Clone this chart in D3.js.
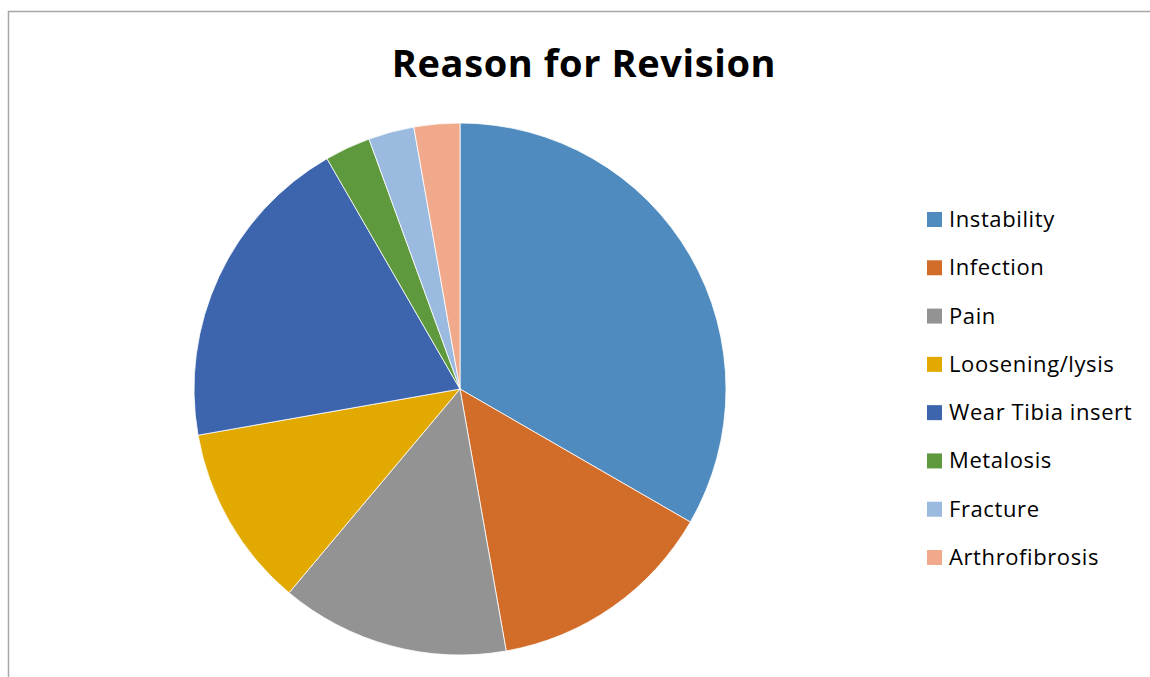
<!DOCTYPE html>
<html><head><meta charset="utf-8">
<script src="https://cdn.jsdelivr.net/npm/d3@7"></script>
<style>body{margin:0;background:#fff}svg{display:block}</style>
</head><body>
<svg id="c" width="1150" height="677"></svg>
<script>
const categories = ["Instability","Infection","Pain","Loosening/lysis","Wear Tibia insert","Metalosis","Fracture","Arthrofibrosis"];
const values = [12,5,5,4,7,1,1,1];
const colors = ["#4F8BBE","#D26D29","#939393","#E2A900","#3D65AD","#5F993D","#9ABADF","#F0A98A"];
const title = "Reason for Revision";

const svg = d3.select("#c");
const font = "'Open Sans', Lato, sans-serif";
svg.append("rect").attr("x",8.5).attr("y",11.5).attr("width",1200).attr("height",800)
  .attr("fill","none").attr("stroke","#a6a6a6").attr("stroke-width",1.5);

svg.append("text").attr("x",584).attr("y",77).attr("text-anchor","middle")
  .attr("font-family",font).attr("font-weight","bold").attr("font-size",38)
  .attr("letter-spacing",0.6).attr("fill","#000").text(title);

const cx=460, cy=389, r=266;
const pie = d3.pie().sort(null).value(d=>d.v);
const arc = d3.arc().innerRadius(0).outerRadius(r);
const data = categories.map((c,i)=>({c, v:values[i], col:colors[i]}));
const g = svg.append("g").attr("transform",`translate(${cx},${cy})`);
g.selectAll("path").data(pie(data)).join("path")
  .attr("d",arc).attr("fill",d=>d.data.col).attr("stroke","#fff").attr("stroke-width",0.8);

const ly = d3.scalePoint().domain(categories).range([219,557]);
const lg = svg.append("g");
categories.forEach((c,i)=>{
  lg.append("rect").attr("x",927).attr("y",ly(c)-7).attr("width",15).attr("height",15).attr("fill",colors[i]);
  lg.append("text").attr("x",949).attr("y",ly(c)+8).attr("font-family",font).attr("font-size",22)
    .attr("letter-spacing",0.6).attr("fill","#000").text(c);
});
</script>
</body></html>
